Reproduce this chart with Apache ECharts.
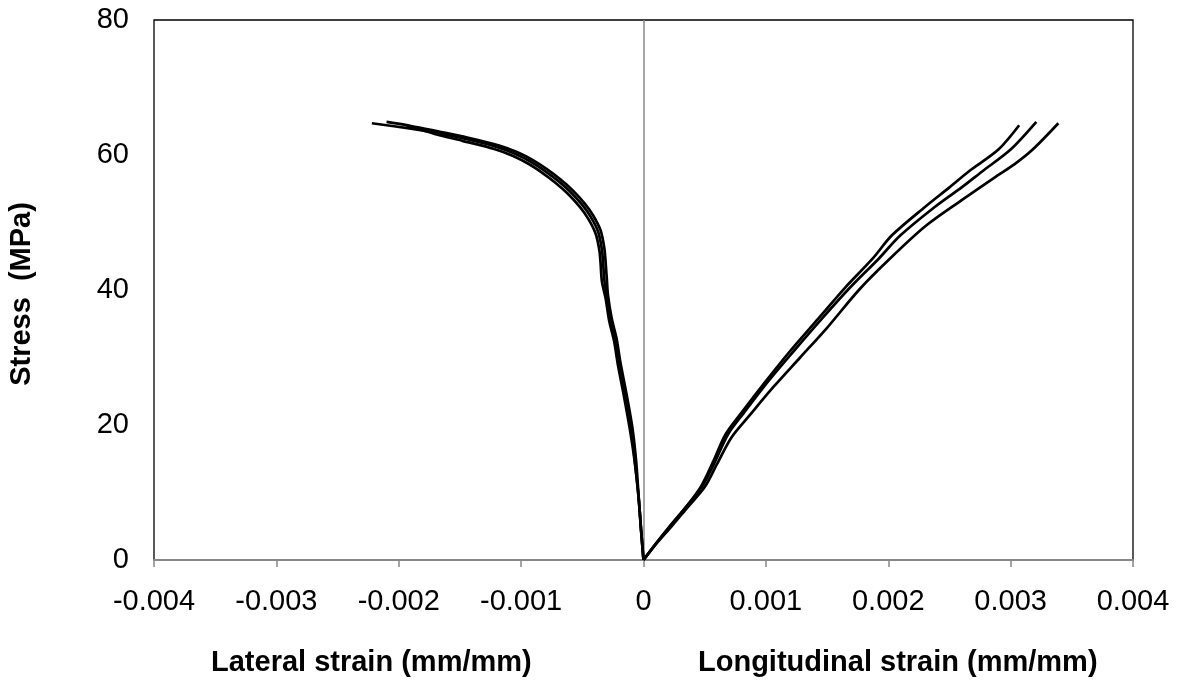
<!DOCTYPE html>
<html>
<head>
<meta charset="utf-8">
<script src="https://cdn.jsdelivr.net/npm/echarts@6/dist/echarts.min.js"></script>
<style>html,body{margin:0;padding:0;background:#fff}#chart{width:1184px;height:684px}</style>
</head>
<body>
<div id="chart"></div>
<script>
// ---- Data (strain in mm/mm, stress in MPa) ----
const xTickLabels = ['-0.004','-0.003','-0.002','-0.001','0','0.001','0.002','0.003','0.004'];
const yTickLabels = ['0','20','40','60','80'];

const lateral1 = [[0,0],[-0.00002,4.5],[-0.00004,9.3],[-0.00007,14.5],[-0.0001,19.3],[-0.00015,24.5],[-0.0002,29.2],[-0.00023,32.6],[-0.00027,35.6],[-0.0003,39],[-0.00032,41.5],[-0.00033,44],[-0.00034,46],[-0.00037,48.6],[-0.00043,50.8],[-0.0005,52.6],[-0.0006,54.6],[-0.0007,56.2],[-0.00081,57.7],[-0.00092,59],[-0.00105,60.2],[-0.0012,61.2],[-0.00146,62.4],[-0.0017,63.3],[-0.0019,63.9],[-0.00222,64.7]];
const lateral2 = [[0,0],[-0.00002,4.6],[-0.00004,9.5],[-0.00006,14.6],[-0.00009,19.5],[-0.00014,24.7],[-0.00019,29.4],[-0.00022,32.8],[-0.00026,35.8],[-0.00029,39.2],[-0.0003,41.7],[-0.00031,44.2],[-0.00032,46.2],[-0.00035,48.8],[-0.00041,51],[-0.00048,52.8],[-0.00058,54.8],[-0.00068,56.4],[-0.00079,57.9],[-0.0009,59.2],[-0.00103,60.4],[-0.00118,61.4],[-0.00144,62.6],[-0.00168,63.5],[-0.0019,64.3],[-0.0021,64.9]];
const lateral3 = [[0,0],[-0.00002,4.4],[-0.00004,9.2],[-0.00007,14.3],[-0.00011,19.2],[-0.00016,24.3],[-0.00021,29],[-0.00024,32.4],[-0.00028,35.4],[-0.00031,38.8],[-0.00034,41.3],[-0.00035,43.8],[-0.00036,45.8],[-0.00039,48.3],[-0.00045,50.5],[-0.00052,52.3],[-0.00062,54.3],[-0.00072,55.9],[-0.00083,57.4],[-0.00094,58.7],[-0.00107,59.9],[-0.00122,60.9],[-0.00148,62.1],[-0.0017,63.1],[-0.00194,64.4]];

const longitudinal1 = [[0,0],[0.0001,2.4],[0.00022,5.1],[0.00035,7.9],[0.00047,10.9],[0.00057,14.6],[0.00067,18.6],[0.0008,21.8],[0.001,26.5],[0.0012,31],[0.00143,35.8],[0.00165,40.4],[0.00187,44.6],[0.00203,48.1],[0.0023,52.3],[0.0025,55.2],[0.00266,57.6],[0.0029,60.8],[0.00307,64.4]];
const longitudinal2 = [[0,0],[0.0001,2.4],[0.00022,5.1],[0.00035,7.9],[0.00048,10.9],[0.00058,14.4],[0.00069,18.6],[0.00082,21.8],[0.00102,26.5],[0.00123,31],[0.00146,35.8],[0.00169,40.4],[0.00192,44.6],[0.0021,48.1],[0.00238,52.3],[0.0026,55.2],[0.00277,57.6],[0.003,60.8],[0.00321,64.9]];
const longitudinal3 = [[0,0],[0.0001,2.3],[0.00023,5],[0.00036,7.8],[0.0005,10.8],[0.0006,14.2],[0.00072,18.2],[0.00087,21.5],[0.00106,25.6],[0.00128,30],[0.0015,34.4],[0.00176,40],[0.002,44.4],[0.0023,49.4],[0.0026,53.3],[0.00288,56.8],[0.00303,58.6],[0.00318,60.8],[0.00339,64.7]];

const xTitleLeft = 'Lateral strain (mm/mm)';
const xTitleRight = 'Longitudinal strain (mm/mm)';
const yTitle = 'Stress  (MPa)';

// ---- Chart ----
const FONT = '"Liberation Sans", Arial, sans-serif';
const chart = echarts.init(document.getElementById('chart'), null, {renderer: 'canvas'});

function lineSeries(data, withZero) {
  const s = {
    type: 'line', data: data, showSymbol: false, smooth: 0.3,
    lineStyle: {color: '#000', width: 2.7}, silent: true, animation: false, z: 3
  };
  if (withZero) {
    s.markLine = {
      silent: true, symbol: 'none', animation: false, label: {show: false},
      lineStyle: {color: '#888', width: 1.5, type: 'solid'},
      data: [{xAxis: 0}], z: 1
    };
  }
  return s;
}

chart.setOption({
  backgroundColor: '#fff',
  animation: false,
  grid: {left: 154, right: 51, top: 20, bottom: 124, show: true, borderColor: '#000', borderWidth: 1.3, backgroundColor: 'transparent'},
  xAxis: {
    type: 'value', min: -0.004, max: 0.004, interval: 0.001,
    axisLine: {show: true, onZero: false, lineStyle: {color: '#888', width: 2}},
    axisTick: {show: true, length: 7, lineStyle: {color: '#888', width: 1.5}},
    splitLine: {show: false},
    axisLabel: {
      color: '#000', fontSize: 29, fontFamily: FONT, margin: 27,
      formatter: v => xTickLabels[Math.round((v + 0.004) / 0.001)]
    }
  },
  yAxis: {
    type: 'value', min: 0, max: 80, interval: 20,
    axisLine: {show: false}, axisTick: {show: false}, splitLine: {show: false},
    axisLabel: {
      color: '#000', fontSize: 29, fontFamily: FONT, margin: 25,
      formatter: v => yTickLabels[Math.round(v / 20)]
    }
  },
  graphic: [
    {type: 'text', left: 372 - 161, top: 648, style: {text: xTitleLeft, font: 'bold 29px ' + FONT, fill: '#000'}},
    {type: 'text', left: 898 - 200, top: 648, style: {text: xTitleRight, font: 'bold 29px ' + FONT, fill: '#000'}},
    {type: 'text', x: 22, y: 294, rotation: Math.PI / 2, style: {text: yTitle, font: 'bold 29px ' + FONT, fill: '#000', align: 'center', verticalAlign: 'middle'}}
  ],
  series: [
    lineSeries(lateral1, true), lineSeries(lateral2), lineSeries(lateral3),
    lineSeries(longitudinal1), lineSeries(longitudinal2), lineSeries(longitudinal3)
  ]
});
</script>
</body>
</html>
